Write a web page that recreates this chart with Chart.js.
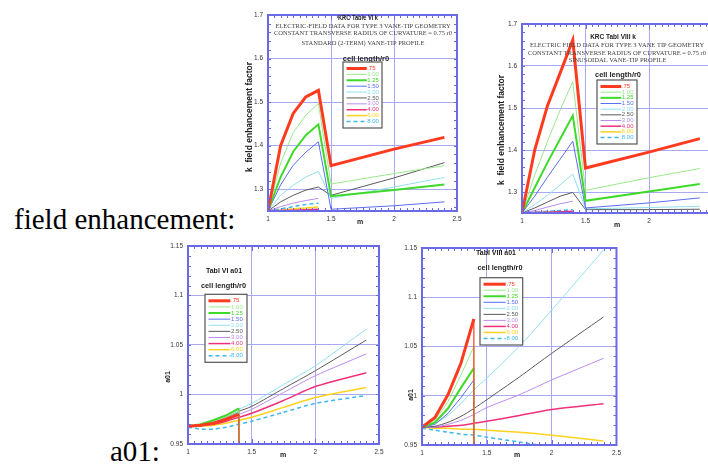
<!DOCTYPE html>
<html>
<head>
<meta charset="utf-8">
<script src="https://cdn.jsdelivr.net/npm/chart.js@4.4.1/dist/chart.umd.min.js"></script>
<style>
  html, body { margin: 0; padding: 0; background: #fff; width: 708px; height: 464px; overflow: hidden; position: relative; }
  .txt { position: absolute; font-family: 'Liberation Serif', 'Times New Roman', serif; font-size: 29px; line-height: 29px; color: #000; white-space: nowrap; }
  canvas { position: absolute; }
</style>
</head>
<body>
<div class="txt" style="left:14px; top:205px;">field enhancement:</div>
<div class="txt" style="left:110px; top:437px;">a01:</div>
<canvas id="kVI" width="232" height="225" style="left:236px; top:5px;"></canvas>
<canvas id="kVIII" width="234" height="222" style="left:490px; top:10px;"></canvas>
<canvas id="aVI" width="233" height="228" style="left:155px; top:236px;"></canvas>
<canvas id="aVIII" width="236" height="226" style="left:389px; top:238px;"></canvas>
<script>
const cellLengths = ['.75', '1.00', '1.25', '1.50', '2.00', '2.50', '3.00', '4.00', '6.00', '8.00'];

// m values of the k charts (the fall is between 1.4 and 1.5)
const mK = [1, 1.1, 1.2, 1.3, 1.4, 1.5, 2.0, 2.4];
// m values of the a01 charts, 1.4 twice for the vertical fall of the short curves
const mA = [1, 1.1, 1.2, 1.3, 1.4, 1.4, 1.5, 1.75, 2.0, 2.4];

const kTicks = [1.3, 1.4, 1.5, 1.6, 1.7];
const a01Ticks = [0.95, 1, 1.05, 1.1, 1.15];
const mTicks = [1, 1.5, 2, 2.5];

// KRC Table VI k, one row per cell length
const kTableVI = [
    [1.25, 1.400, 1.474, 1.512, 1.527, 1.354, 1.392, 1.419],
    [1.25, 1.360, 1.430, 1.470, 1.497, 1.312, 1.336, 1.354],
    [1.25, 1.328, 1.386, 1.424, 1.449, 1.284, 1.298, 1.311],
    [1.25, 1.310, 1.355, 1.385, 1.409, 1.254, 1.262, 1.271],
    [1.25, 1.286, 1.309, 1.328, 1.341, 1.279, 1.305, 1.327],
    [1.25, 1.271, 1.286, 1.298, 1.305, 1.286, 1.326, 1.361],
    [1.25, 1.260, 1.268, 1.274, 1.279, null, null, null],
    [1.25, 1.251, 1.252, 1.253, 1.254, null, null, null],
    [1.25, 1.252, 1.255, 1.257, 1.259, null, null, null],
    [1.25, 1.255, 1.260, 1.265, 1.268, null, null, null],
];

// KRC Tabl VIII k
const kTableVIII = [
    [1.25, 1.400, 1.505, 1.583, 1.662, 1.357, 1.395, 1.427],
    [1.25, 1.340, 1.420, 1.495, 1.563, 1.304, 1.334, 1.356],
    [1.25, 1.310, 1.370, 1.426, 1.482, 1.279, 1.301, 1.319],
    [1.25, 1.290, 1.335, 1.378, 1.421, 1.262, 1.274, 1.286],
    [1.25, 1.270, 1.292, 1.317, 1.343, 1.260, 1.263, 1.266],
    [1.25, 1.262, 1.276, 1.290, 1.299, 1.258, 1.258, 1.259],
    [1.25, 1.256, 1.264, 1.272, 1.278, null, null, null],
    [1.25, 1.251, 1.252, 1.253, 1.254, null, null, null],
    [1.25, 1.251, 1.252, 1.252, 1.253, null, null, null],
    [1.25, 1.252, 1.254, 1.256, 1.258, null, null, null],
];

// Tabl VI a01
const a01TableVI = [
    [0.968, 0.969, 0.971, 0.975, 0.980, 0.93, null, null, null, null],
    [0.968, 0.969, 0.972, 0.977, 0.983, 0.93, null, null, null, null],
    [0.968, 0.970, 0.974, 0.979, 0.986, 0.93, null, null, null, null],
    [0.968, 0.969, 0.972, 0.976, 0.982, 0.93, null, null, null, null],
    [0.968, 0.969, 0.973, 0.979, 0.985, null, 0.991, 1.010, 1.029, 1.066],
    [0.968, 0.969, 0.972, 0.977, 0.983, null, 0.988, 1.006, 1.024, 1.055],
    [0.968, 0.969, 0.971, 0.975, 0.980, null, 0.985, 1.002, 1.019, 1.041],
    [0.968, 0.969, 0.970, 0.973, 0.977, null, 0.981, 0.994, 1.008, 1.022],
    [0.968, 0.968, 0.969, 0.971, 0.974, null, 0.977, 0.987, 0.997, 1.007],
    [0.967, 0.965, 0.965, 0.967, 0.970, null, 0.973, 0.982, 0.991, 0.999],
];

// Tabl VIII a01
const a01TableVIII = [
    [0.968, 0.978, 1.001, 1.033, 1.078, 0.93, null, null, null, null],
    [0.968, 0.975, 0.994, 1.021, 1.050, 0.93, null, null, null, null],
    [0.968, 0.973, 0.987, 1.008, 1.028, 0.93, null, null, null, null],
    [0.968, 0.971, 0.982, 0.998, 1.016, 0.93, null, null, null, null],
    [0.968, 0.972, 0.980, 0.992, 1.006, null, 1.018, 1.050, 1.087, 1.148],
    [0.968, 0.969, 0.973, 0.979, 0.987, null, 0.996, 1.019, 1.043, 1.080],
    [0.968, 0.968, 0.971, 0.975, 0.981, null, 0.988, 1.001, 1.016, 1.038],
    [0.968, 0.968, 0.969, 0.970, 0.972, null, 0.974, 0.980, 0.986, 0.992],
    [0.968, 0.967, 0.967, 0.966, 0.966, null, 0.965, 0.963, 0.960, 0.954],
    [0.967, 0.965, 0.963, 0.961, 0.960, null, 0.958, 0.953, 0.948, 0.943],
];

const lineColors = ['#ff3b1f', '#9be88d', '#3fd92a', '#5b6df0', '#92e0ec',
    '#5a5a5a', '#b98cf0', '#f0307a', '#ffd21f', '#3db8f0'];
const lineWidths = [3, 1, 2, 1, 1, 1, 1, 1.5, 1.5, 1.5];

const frameColor = '#6a6ae6';
const gridColor = '#a9a9f2';
const sans = '"Liberation Sans", Arial, sans-serif';
const serif = '"Liberation Serif", "Times New Roman", serif';

// frame, small tick marks, the texts inside the plot and the boxed legend
const sheetPlugin = {
    id: 'sheet',
    afterDraw(chart, args, opts) {
        const ctx = chart.ctx;
        const a = chart.chartArea;
        const xs = chart.scales.x;
        const ys = chart.scales.y;
        ctx.save();

        ctx.strokeStyle = frameColor;
        ctx.lineWidth = 1;
        ctx.beginPath();
        for (let i = 0; ; i++) {
            const v = xs.min + i * 0.05;
            if (v > xs.max + 1e-9) break;
            const px = Math.round(xs.getPixelForValue(v)) + 0.5;
            const len = Math.abs(v * 2 - Math.round(v * 2)) < 1e-6 ? 5 : 3;
            ctx.moveTo(px, a.bottom); ctx.lineTo(px, a.bottom - len);
            ctx.moveTo(px, a.top); ctx.lineTo(px, a.top + len);
        }
        const start = Math.ceil(ys.min / opts.yMinor - 1e-6);
        for (let i = start; ; i++) {
            const v = i * opts.yMinor;
            if (v > ys.max + 1e-9) break;
            const py = Math.round(ys.getPixelForValue(v)) + 0.5;
            ctx.moveTo(a.left, py); ctx.lineTo(a.left + 3, py);
            ctx.moveTo(a.right, py); ctx.lineTo(a.right - 3, py);
        }
        ctx.stroke();
        ctx.lineWidth = 2;
        ctx.strokeRect(a.left, a.top, a.width, a.height);

        ctx.textAlign = 'center';
        ctx.textBaseline = 'middle';
        opts.notes.forEach(n => {
            ctx.font = n.font;
            ctx.fillStyle = n.color || '#222';
            if (n.maxWidth) {
                ctx.fillText(n.text, a.left + n.at[0], a.top + n.at[1], n.maxWidth);
            } else {
                ctx.fillText(n.text, a.left + n.at[0], a.top + n.at[1]);
            }
        });

        ctx.fillStyle = '#222';
        ctx.font = 'bold 7px ' + sans;
        ctx.fillText('m', a.left + opts.xTitleAt[0], a.bottom + opts.xTitleAt[1]);
        ctx.save();
        ctx.font = opts.yTitleFont;
        ctx.translate(a.left + opts.yTitleAt[0], a.top + opts.yTitleAt[1]);
        ctx.rotate(-Math.PI / 2);
        ctx.fillText(opts.yTitle, 0, 0);
        ctx.restore();

        const L = opts.legend;
        const bx = a.left + L.at[0];
        const by = a.top + L.at[1];
        const bw = L.size[0];
        const bh = L.size[1];
        ctx.fillStyle = '#fff';
        ctx.fillRect(bx, by, bw, bh);
        ctx.strokeStyle = '#555';
        ctx.lineWidth = 1.2;
        ctx.strokeRect(bx, by, bw, bh);
        const items = chart.data.datasets;
        const gap = (bh - 13) / (items.length - 1);
        ctx.textAlign = 'left';
        ctx.font = '6px ' + sans;
        items.forEach((d, i) => {
            const yy = by + 6.5 + i * gap;
            ctx.strokeStyle = d.borderColor;
            ctx.lineWidth = d.borderWidth;
            ctx.setLineDash(d.borderDash || []);
            ctx.beginPath();
            ctx.moveTo(bx + 3.5, yy);
            ctx.lineTo(bx + 3.5 + bw * 0.52, yy);
            ctx.stroke();
            ctx.setLineDash([]);
            ctx.fillStyle = d.borderColor;
            ctx.fillText(d.label, bx + bw * 0.62, yy);
        });
        ctx.restore();
    }
};

function makeDatasets(mValues, rows, smooth) {
    return rows.map((row, i) => {
        const pts = [];
        row.forEach((v, j) => {
            if (v !== null) pts.push({x: mValues[j], y: v});
        });
        const short = row[row.length - 1] === null;
        const n = pts.length;
        // the vertical fall at the end of the short a01 curves is a thin line
        const hasDrop = n > 1 && pts[n - 1].x === pts[n - 2].x;
        return {
            label: cellLengths[i],
            data: pts,
            borderColor: lineColors[i],
            backgroundColor: lineColors[i],
            borderWidth: lineWidths[i],
            borderDash: i === 9 ? [4, 3] : [],
            pointRadius: 0,
            tension: smooth && !short ? 0.25 : 0,
            fill: false,
            clip: 1,
            segment: {
                borderWidth: c => (hasDrop && c.p1DataIndex === n - 1 ? 1.2 : undefined)
            }
        };
    });
}

function makeChart(id, mValues, rows, smooth, yMin, yMax, yTicks, frame, sheet) {
    return new Chart(document.getElementById(id), {
        type: 'line',
        data: { datasets: makeDatasets(mValues, rows, smooth) },
        options: {
            responsive: false,
            animation: false,
            events: [],
            layout: { padding: { top: frame.top, right: frame.right, left: 0, bottom: 0 } },
            plugins: {
                legend: { display: false },
                tooltip: { enabled: false },
                sheet: sheet
            },
            scales: {
                x: {
                    type: 'linear',
                    min: 1,
                    max: 2.5,
                    afterBuildTicks: s => { s.ticks = mTicks.map(v => ({value: v})); },
                    afterFit: s => { s.height = frame.xAxisH; },
                    grid: { color: gridColor, lineWidth: 1, drawTicks: false },
                    border: { display: false },
                    ticks: { padding: 4, color: '#333', font: { family: sans, size: 6.5 },
                        maxRotation: 0, callback: v => String(v) }
                },
                y: {
                    type: 'linear',
                    min: yMin,
                    max: yMax,
                    afterBuildTicks: s => { s.ticks = yTicks.map(v => ({value: v})); },
                    afterFit: s => { s.width = frame.yAxisW; },
                    grid: { color: gridColor, lineWidth: 1, drawTicks: false },
                    border: { display: false },
                    ticks: { padding: 5, color: '#333', font: { family: sans, size: 6.5 },
                        callback: v => String(v) }
                }
            }
        },
        plugins: [sheetPlugin]
    });
}

const boldSans = s => 'bold ' + s + 'px ' + sans;
const serifFont = '6.5px ' + serif;

let chartKVI = makeChart('kVI', mK, kTableVI, false, 1.25, 1.7, kTicks,
    { top: 10, right: 11, yAxisW: 32, xAxisH: 19 },
    {
        yMinor: 0.02,
        yTitle: 'k  field enhancement factor', yTitleFont: boldSans(8.5), yTitleAt: [-18, 102],
        xTitleAt: [92, 11],
        notes: [
            { text: 'KRC Table VI k', font: boldSans(6.5), at: [90, 3.5], maxWidth: 40 },
            { text: 'ELECTRIC-FIELD DATA FOR TYPE 3 VANE-TIP GEOMETRY', font: serifFont, color: '#444', at: [95, 11], maxWidth: 187 },
            { text: 'CONSTANT TRANSVERSE RADIUS OF CURVATURE = 0.75 r0', font: serifFont, color: '#444', at: [95, 18.5], maxWidth: 188 },
            { text: 'STANDARD (2-TERM) VANE-TIP PROFILE', font: serifFont, color: '#444', at: [95, 28], maxWidth: 125 },
            { text: 'cell length/r0', font: boldSans(7.5), at: [98, 43.5], maxWidth: 48 }
        ],
        legend: { at: [75, 47], size: [39, 66] }
    });

let chartKVIII = makeChart('kVIII', mK, kTableVIII, false, 1.25, 1.7, kTicks,
    { top: 14, right: 11.5, yAxisW: 32, xAxisH: 19 },
    {
        yMinor: 0.02,
        yTitle: 'k  field enhancement factor', yTitleFont: boldSans(8.5), yTitleAt: [-20, 106],
        xTitleAt: [95, 12],
        notes: [
            { text: 'KRC Tabl VIII k', font: boldSans(6.5), at: [91, 13], maxWidth: 47 },
            { text: 'ELECTRIC FIELD DATA FOR TYPE 3 VANE TIP GEOMETRY', font: serifFont, color: '#444', at: [95, 21], maxWidth: 187 },
            { text: 'CONSTANT TRANSVERSE RADIUS OF CURVATURE = 0.75 r0', font: serifFont, color: '#444', at: [95, 29.3], maxWidth: 188 },
            { text: 'SINUSOIDAL VANE-TIP PROFILE', font: serifFont, color: '#444', at: [95.5, 36], maxWidth: 99 },
            { text: 'cell length/r0', font: boldSans(7.5), at: [96, 51], maxWidth: 46 }
        ],
        legend: { at: [75, 56], size: [40, 64] }
    });

let chartAVI = makeChart('aVI', mA, a01TableVI, true, 0.95, 1.15, a01Ticks,
    { top: 10, right: 9, yAxisW: 33, xAxisH: 20 },
    {
        yMinor: 0.01,
        yTitle: 'a01', yTitleFont: boldSans(7), yTitleAt: [-20, 131],
        xTitleAt: [95, 11],
        notes: [
            { text: 'Tabl VI a01', font: boldSans(7), at: [36, 25], maxWidth: 40 },
            { text: 'cell length/r0', font: boldSans(7.5), at: [35.5, 39.7], maxWidth: 45 }
        ],
        legend: { at: [17, 48.3], size: [42, 68] }
    });

let chartAVIII = makeChart('aVIII', mA, a01TableVIII, true, 0.95, 1.15, a01Ticks,
    { top: 10, right: 8.5, yAxisW: 33, xAxisH: 19 },
    {
        yMinor: 0.01,
        yTitle: 'a01', yTitleFont: boldSans(7), yTitleAt: [-11, 147],
        xTitleAt: [95, 10],
        notes: [
            { text: 'Tabl VIII a01', font: boldSans(7), at: [74, 5.5], maxWidth: 40 },
            { text: 'cell length/r0', font: boldSans(7.5), at: [78, 20.3], maxWidth: 45 }
        ],
        legend: { at: [58, 29.7], size: [42.7, 67.3] }
    });
</script>
</body>
</html>
